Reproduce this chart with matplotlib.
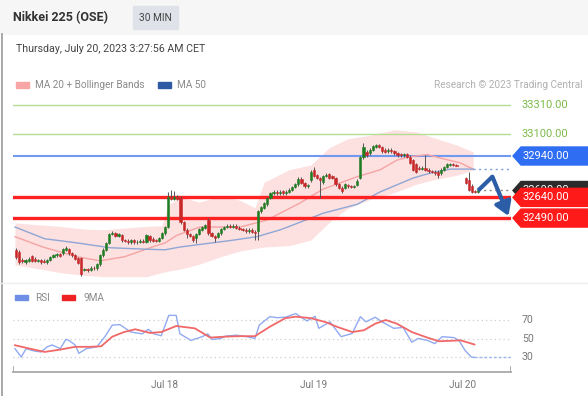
"""Nikkei 225 (OSE) 30-min chart: candles, MA20 + Bollinger, MA50, key levels, RSI panel."""

import numpy as np
import matplotlib
matplotlib.use("Agg")
import matplotlib.pyplot as plt
from matplotlib.patches import Polygon, Rectangle
from matplotlib.transforms import IdentityTransform

plt.rcParams["font.family"] = ["Roboto", "DejaVu Sans"]

W, H = 588, 396

# --- data -------------------------------------------------------------------
# 30-min bars, hours since Jul 17 00:00 CET
bar_hours = np.r_[np.arange(0, 71.5, 0.5), np.arange(72.5, 75.0, 0.5)]

opens = [
    32260, 32245, 32185, 32170, 32180, 32215, 32195, 32180, 32185, 32180,
    32170, 32185, 32210, 32220, 32230, 32235, 32260, 32265, 32235, 32220,
    32200, 32200, 32115, 32120, 32115, 32130, 32125, 32155, 32220, 32260,
    32310, 32375, 32380, 32360, 32365, 32330, 32325, 32315, 32330, 32315,
    32320, 32325, 32320, 32360, 32340, 32330, 32325, 32345, 32380, 32425,
    32640, 32630, 32645, 32635, 32460, 32405, 32375, 32360, 32345, 32375,
    32405, 32420, 32475, 32380, 32360, 32355, 32380, 32410, 32425, 32435,
    32425, 32435, 32420, 32410, 32405, 32395, 32405, 32390, 32395, 32540,
    32565, 32590, 32635, 32670, 32680, 32670, 32685, 32670, 32680, 32695,
    32715, 32735, 32775, 32745, 32720, 32765, 32840, 32800, 32780, 32750,
    32795, 32810, 32795, 32780, 32735, 32710, 32710, 32730, 32720, 32715,
    32730, 32780, 32930, 32970, 32960, 32985, 33005, 33020, 33005, 32985,
    32975, 32985, 32975, 32960, 32955, 32945, 32955, 32935, 32910, 32880,
    32855, 32845, 32855, 32840, 32830, 32825, 32825, 32815, 32840, 32860,
    32875, 32880, 32875, 32780, 32765, 32725, 32685, 32680,
]
closes = [
    32210, 32170, 32180, 32185, 32195, 32180, 32180, 32185, 32170, 32175,
    32185, 32210, 32220, 32230, 32215, 32265, 32275, 32235, 32220, 32195,
    32165, 32085, 32120, 32115, 32130, 32125, 32155, 32220, 32260, 32310,
    32375, 32380, 32360, 32375, 32330, 32325, 32315, 32330, 32315, 32320,
    32325, 32320, 32365, 32330, 32325, 32325, 32345, 32380, 32425, 32640,
    32630, 32645, 32630, 32460, 32405, 32375, 32360, 32330, 32375, 32410,
    32425, 32440, 32380, 32360, 32345, 32380, 32410, 32425, 32435, 32425,
    32435, 32420, 32410, 32405, 32395, 32405, 32390, 32380, 32540, 32570,
    32600, 32635, 32670, 32680, 32670, 32680, 32670, 32680, 32695, 32715,
    32735, 32775, 32745, 32720, 32730, 32825, 32795, 32780, 32765, 32795,
    32805, 32780, 32780, 32735, 32710, 32685, 32735, 32720, 32715, 32720,
    32760, 32930, 33005, 32945, 32985, 33010, 33020, 33005, 32975, 32970,
    32985, 32975, 32960, 32945, 32945, 32955, 32935, 32890, 32840, 32825,
    32845, 32855, 32840, 32830, 32825, 32815, 32800, 32840, 32860, 32880,
    32880, 32875, 32870, 32745, 32695, 32680, 32680, 32690,
]
highs = [
    32275, 32255, 32200, 32195, 32205, 32225, 32205, 32195, 32195, 32190,
    32195, 32215, 32230, 32240, 32240, 32275, 32285, 32275, 32245, 32230,
    32210, 32210, 32130, 32130, 32140, 32140, 32165, 32230, 32270, 32320,
    32385, 32395, 32390, 32385, 32375, 32340, 32335, 32340, 32340, 32330,
    32335, 32335, 32375, 32370, 32350, 32340, 32355, 32390, 32435, 32680,
    32695, 32685, 32660, 32650, 32470, 32415, 32385, 32370, 32385, 32420,
    32435, 32450, 32490, 32390, 32370, 32390, 32420, 32435, 32445, 32445,
    32445, 32445, 32430, 32420, 32415, 32415, 32415, 32400, 32550, 32580,
    32610, 32645, 32680, 32690, 32690, 32690, 32695, 32690, 32705, 32725,
    32745, 32785, 32785, 32755, 32740, 32835, 32860, 32810, 32790, 32805,
    32815, 32820, 32805, 32790, 32745, 32720, 32745, 32740, 32730, 32730,
    32770, 32940, 33035, 32980, 32995, 33020, 33030, 33030, 33015, 32995,
    32995, 32995, 32985, 32970, 32965, 32965, 32965, 32945, 32920, 32890,
    32865, 32865, 32945, 32850, 32840, 32835, 32835, 32850, 32870, 32890,
    32890, 32890, 32885, 32790, 32825, 32735, 32695, 32700,
]
lows = [
    32195, 32160, 32165, 32160, 32170, 32170, 32170, 32170, 32160, 32165,
    32160, 32180, 32200, 32210, 32205, 32225, 32250, 32225, 32210, 32185,
    32155, 32070, 32105, 32100, 32105, 32115, 32115, 32145, 32210, 32250,
    32300, 32365, 32350, 32350, 32320, 32315, 32305, 32305, 32305, 32305,
    32310, 32310, 32310, 32320, 32315, 32315, 32315, 32335, 32370, 32415,
    32620, 32620, 32620, 32450, 32395, 32345, 32350, 32320, 32310, 32365,
    32395, 32410, 32370, 32350, 32315, 32345, 32370, 32400, 32415, 32415,
    32415, 32410, 32400, 32395, 32385, 32385, 32380, 32330, 32330, 32530,
    32555, 32580, 32625, 32660, 32660, 32660, 32660, 32660, 32670, 32685,
    32705, 32725, 32735, 32710, 32710, 32755, 32785, 32770, 32635, 32740,
    32785, 32770, 32770, 32725, 32700, 32675, 32700, 32710, 32705, 32705,
    32720, 32770, 32920, 32935, 32950, 32975, 32995, 32995, 32965, 32960,
    32965, 32965, 32950, 32935, 32935, 32935, 32925, 32880, 32830, 32815,
    32835, 32835, 32830, 32820, 32815, 32805, 32780, 32805, 32830, 32850,
    32865, 32865, 32865, 32735, 32685, 32670, 32670, 32675,
]

ma20_hours = [-0.2, 4.3, 9.8, 13.5, 17.5, 21.6, 24.0, 25.9, 29.6, 36.1, 40.4,
              45.8, 49.5, 55.0, 58.7, 61.4, 63.5, 66.3, 68.4, 71.6, 73.7]
ma20 = [32355, 32280, 32210, 32180, 32210, 32275, 32310, 32365, 32425, 32425, 32475,
        32600, 32700, 32790, 32840, 32910, 32935, 32950, 32925, 32890, 32845]

ma50_hours = [-0.2, 4.6, 9.8, 15.1, 20.5, 24.0, 26.4, 35.0, 38.8, 42.6, 45.8,
              49.5, 55.0, 58.7, 64.0, 66.7, 70.0, 73.7]
ma50 = [32425, 32340, 32310, 32275, 32265, 32260, 32280, 32330, 32355, 32405, 32460,
        32525, 32590, 32680, 32780, 32815, 32845, 32845]

bb_hours = [-0.2, 4, 7, 11, 14, 18, 21, 23.5, 24.5, 26.5, 29.5, 33, 36, 38.5, 40,
            44, 47.5, 50.5, 53.5, 57, 61, 64.5, 67.5, 71, 73.7]
bb_upper = [32455, 32440, 32430, 32410, 32405, 32420, 32430, 32435, 32585, 32645,
            32605, 32650, 32620, 32565, 32750, 32840, 32875, 33000, 33065, 33090,
            33130, 33115, 33070, 33020, 32970]
bb_lower = [32150, 32120, 32095, 32075, 32065, 32065, 32065, 32095, 32105, 32120,
            32155, 32210, 32250, 32270, 32280, 32290, 32330, 32460, 32560, 32625,
            32675, 32735, 32770, 32800, 32840]

# key levels
resist = [33310, 33100]
pivot = 32940
supports = [32640, 32490]
last_price = 32690

# projected path
path_hours = [74.5, 76.8, 79.4]
path_prices = [32690, 32790, 32505]

rsi_hours = [-0.2, 0.8, 1.6, 2.9, 4.0, 5.0, 5.8, 7.1, 8.0, 8.5, 9.5, 10.1, 11.3, 13.0,
             14.3, 15.5, 16.7, 18.5, 20.3, 21.3, 22.2, 23.4, 24.6, 25.8, 26.4, 28.2,
             30.0, 30.9, 31.6, 33.0, 33.7, 35.5, 37.2, 38.5, 39.2, 40.9, 42.1, 43.4,
             45.1, 45.8, 46.9, 48.2, 48.8, 50.6, 52.4, 54.2, 55.5, 56.4, 57.9, 59.0,
             60.9, 62.4, 63.8, 64.8, 66.3, 67.5, 68.7, 70.6, 71.4, 72.4, 73.4, 73.9]
rsi = [39, 30, 39, 36.5, 35.5, 41, 43, 39, 49, 48, 43, 34, 39, 41,
       52, 64.5, 65, 57, 55, 60, 55, 53, 75, 75, 55, 48,
       52, 55, 49, 50, 52.5, 53.6, 52, 50, 64.5, 73.6, 72.5, 73,
       77, 73.6, 69, 74, 61, 68, 52, 55.5, 73.6, 68, 73, 68,
       61, 62, 46, 50, 48, 44.5, 52, 51, 48, 37, 30, 29.5]

rsi_ma_hours = [-0.2, 2.2, 4.6, 7.1, 9.5, 11.9, 13.7, 15.5, 17.4, 19.2, 21.6, 23.4,
                25.8, 28.8, 31.3, 33.7, 36.1, 38.5, 40.9, 43.4, 45.1, 47.5, 50.0,
                51.7, 54.2, 56.1, 57.9, 59.6, 61.4, 63.8, 66.3, 68.2, 70.0, 71.7, 73.9]
rsi_ma = [42.7, 39, 35.5, 38, 41, 41, 41.6, 52, 57, 60, 56, 57,
          63.5, 61, 51, 52, 52.5, 52.5, 62.7, 72, 73.6, 72, 67.5,
          62.7, 57, 59, 66, 70, 66, 57, 51, 47, 47.5, 48, 43.5]

rsi_levels = [30, 50, 70]
day_ticks = [24, 48, 72]
day_labels = ["Jul 18", "Jul 19", "Jul 20"]

# --- layout -----------------------------------------------------------------
def px(x, y):
    return x / W, 1 - y / H

XMIN, XMAX = -0.52, 79.8
GREEN_C, RED_C = "#1f7d22", "#c8282a"

fig = plt.figure(figsize=(W / 100, H / 100), dpi=100)
fig.patches.append(Rectangle((0, 1 - 34 / H), 1, 34 / H, transform=fig.transFigure,
                             color="#f6f6f6", zorder=0))
fig.patches.append(Rectangle(px(133, 29), 45 / W, 23 / H, transform=fig.transFigure,
                             color="#dfe2e8", zorder=1))
fig.add_artist(plt.Line2D([2 / W, 2 / W], [0, 1 - 34 / H], color="#9a9a9a", lw=1.2))
fig.add_artist(plt.Line2D([0, 1], [1 - 283 / H] * 2, color="#eeeeee", lw=1))
fig.text(*px(13, 18), "Nikkei 225 (OSE)", fontsize=9, fontweight="bold",
         color="#333333", va="center")
fig.text(*px(155.5, 18), "30 MIN", fontsize=7.3, color="#444444", va="center", ha="center")
fig.text(*px(16, 49), "Thursday, July 20, 2023 3:27:56 AM CET", fontsize=7.7,
         color="#444444", va="center")

ax = fig.add_axes([13 / W, (H - 280) / H, 498 / W, 205 / H])
ax.set_xlim(XMIN, XMAX)
ax.set_ylim(34071 - 7.25 * 280, 34071 - 7.25 * 75)
ax.axis("off")

# Bollinger band + moving averages
ax.fill_between(bb_hours, bb_lower, bb_upper, color="#fde0e0", lw=0, zorder=1)
ax.plot(ma20_hours, ma20, color="#f6a3a3", lw=1, zorder=2)
ax.plot(ma50_hours, ma50, color="#8ea7d6", lw=1, zorder=2)
ax.plot([ma50_hours[-1], XMAX], [ma50[-1]] * 2, color="#7d9fdc", lw=1, ls=(0, (1.5, 2.5)))
ax.plot([bar_hours[-1], XMAX], [last_price] * 2, color="#888888", lw=1, ls=(0, (1.5, 2.5)))

# levels
for v in resist:
    ax.axhline(v, color="#b3dc95", lw=1, zorder=1)
ax.axhline(pivot, color="#6f9af0", lw=1.5, zorder=1)
for v in supports:
    ax.axhline(v, color="#ff2222", lw=2.4, zorder=3)

# candles
o, c = np.array(opens), np.array(closes)
colors = np.where(c >= o, GREEN_C, RED_C)
ax.vlines(bar_hours, lows, highs, color="#555555", lw=0.7, zorder=4)
ax.bar(bar_hours, c - o, bottom=o, width=0.36, color=colors, edgecolor=colors,
       lw=0.4, zorder=5)

# projected path
ax.plot(path_hours[:2], path_prices[:2], color="#2c5ea8", lw=3, zorder=6,
        solid_capstyle="butt", clip_on=False)
ax.annotate("", xy=(path_hours[2], path_prices[2]), xytext=(path_hours[1], path_prices[1]),
            arrowprops=dict(arrowstyle="-|>,head_length=0.8,head_width=0.5", lw=3,
                            color="#2c5ea8", shrinkA=0, shrinkB=0), zorder=6,
            annotation_clip=False)

# legend / credit
fig.patches.append(Rectangle(px(16, 87.5), 13 / W, 5 / H, transform=fig.transFigure,
                             color="#f7a5a5"))
fig.text(*px(35, 85), "MA 20 + Bollinger Bands", fontsize=7.2, color="#8a8a8a", va="center")
fig.patches.append(Rectangle(px(158, 87.5), 13 / W, 5 / H, transform=fig.transFigure,
                             color="#2d5aa3"))
fig.text(*px(177, 85), "MA 50", fontsize=7.2, color="#8a8a8a", va="center")
fig.text(*px(583, 85), "Research \u00a9 2023 Trading Central", fontsize=7.2,
         color="#b0b0b0", va="center", ha="right")

# right-hand price labels
for v in resist:
    ax.text(1.022, v, f"{v:.2f}", transform=ax.get_yaxis_transform(), fontsize=8,
            color="#7cba4a", va="center", clip_on=False)


def tag(value, color, z):
    # later tags sit on top of earlier ones (the 32640 tag hides part of 32690)
    y = ax.transData.transform((0, value))[1]
    pts = [(513, y), (521, y + 9), (W, y + 9), (W, y - 9), (521, y - 9)]
    fig.add_artist(Polygon(pts, closed=True, color=color, zorder=z,
                           transform=IdentityTransform()))
    fig.add_artist(plt.Text(546, y, f"{value:.2f}", color="white", fontsize=8,
                            ha="center", va="center", zorder=z + 0.5,
                            transform=IdentityTransform()))


fig.canvas.draw()
tag(pivot, "#2f6df2", 10)
tag(last_price, "#2b2b2b", 11)
for k, v in enumerate(supports):
    tag(v, "#ff1a1a", 12 + k)

# RSI panel
ax2 = fig.add_axes([13 / W, (H - 372) / H, 498 / W, 67 / H])
ax2.set_xlim(XMIN, XMAX)
ax2.set_ylim(30 - 15 / 0.925, 70 + 15 / 0.925)
for s in ["top", "left", "right"]:
    ax2.spines[s].set_visible(False)
ax2.spines["bottom"].set_color("#a8a8a8")
ax2.spines["bottom"].set_linewidth(1.3)
for xe in (XMIN, XMAX):
    ax2.axvline(xe, ymax=0.08, color="#a8a8a8", lw=1.3)
for lv in rsi_levels:
    ax2.axhline(lv, xmax=0.995, color="#cfcfcf", lw=0.9, ls=(0, (1, 2.5)))
ax2.plot(rsi_hours, rsi, color="#91aaf0", lw=1)
ax2.plot(rsi_ma_hours, rsi_ma, color="#f06868", lw=1.3)
ax2.plot([rsi_hours[-1], XMAX], [rsi[-1]] * 2, color="#9fb5f2", lw=1, ls=(0, (2, 1.5)))
ax2.set_yticks([])
ax2.set_xticks(day_ticks, day_labels)
ax2.tick_params(axis="x", length=0, pad=6, labelsize=7.2, labelcolor="#777777")
for lv in rsi_levels:
    ax2.text(1.022, lv, str(lv), transform=ax2.get_yaxis_transform(), fontsize=7.6,
             color="#777777", va="center")

fig.patches.append(Rectangle(px(15, 300), 13 / W, 5 / H, transform=fig.transFigure,
                             color="#6f8fe6"))
fig.text(*px(35, 298), "RSI", fontsize=7.2, color="#8a8a8a", va="center")
fig.patches.append(Rectangle(px(62, 300), 13 / W, 5 / H, transform=fig.transFigure,
                             color="#ee2222"))
fig.text(*px(84, 298), "9MA", fontsize=7.2, color="#8a8a8a", va="center")

fig.savefig("out.png", dpi=100)
